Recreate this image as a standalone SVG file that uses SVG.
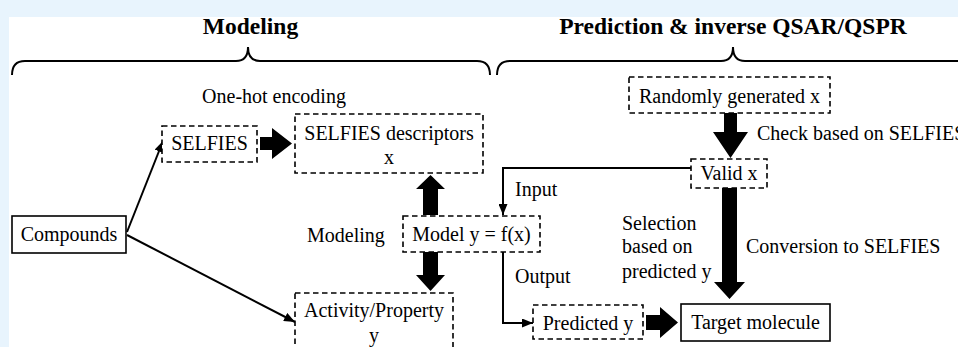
<svg xmlns="http://www.w3.org/2000/svg" width="958" height="347" viewBox="0 0 958 347">
<style>
text{font-family:"Liberation Serif","Times New Roman",serif;font-size:20px;fill:#000}
.title{font-weight:bold;font-size:23.5px;text-anchor:middle}
.c{text-anchor:middle}
.dash{fill:#fff;stroke:#000;stroke-width:1.6;stroke-dasharray:5.5,3.5}
.solid{fill:#fff;stroke:#000;stroke-width:1.6}
.line{fill:none;stroke:#000;stroke-width:2}
.brace{fill:none;stroke:#000;stroke-width:2}
.block{fill:#000}
</style>
<defs>
<marker id="ah" markerUnits="userSpaceOnUse" markerWidth="11" markerHeight="9" refX="11" refY="4.5" orient="auto">
<path d="M0,0 L11,4.5 L0,9 z" fill="#000"/>
</marker>
</defs>
<rect x="0" y="0" width="958" height="347" fill="#e8f4fd"/>
<rect x="9" y="17" width="949" height="330" fill="#fff"/>

<g id="titles">
<text class="title" x="250.5" y="34">Modeling</text>
<text class="title" x="733" y="34">Prediction &amp; inverse QSAR/QSPR</text>
<path class="brace" d="M12,75 Q12,61 25,61 H236 Q248,61 248,47 Q248,61 260,61 H477 Q490,61 490,75"/>
<path class="brace" d="M497,75 Q497,61 510,61 H721 Q733,61 733,47 Q733,61 745,61 H958"/>
</g>

<g id="connectors">
<line class="line" x1="127" y1="232" x2="163" y2="141" marker-end="url(#ah)"/>
<line class="line" x1="127" y1="235" x2="295" y2="322" marker-end="url(#ah)"/>
<path class="line" d="M692,168 H503 V215" marker-end="url(#ah)"/>
<path class="line" d="M503,252 V323 H533" marker-end="url(#ah)"/>
<polygon class="block" points="260,137 272,137 272,128 292,143.5 272,159 272,150 260,150"/>
<polygon class="block" points="423,215 423,189 416,189 430.5,175 445,189 438,189 438,215"/>
<polygon class="block" points="423,252 438,252 438,275 445,275 430.5,291 416,275 423,275"/>
<polygon class="block" points="724,113 737,113 737,132 748,132 730.5,158 713,132 724,132"/>
<polygon class="block" points="722,188 737,188 737,282 745,282 729.5,299 714,282 722,282"/>
<polygon class="block" points="646,315 660,315 660,307 678,322.5 660,338 660,330 646,330"/>
</g>

<g id="labels">
<text class="c" x="274" y="103">One-hot encoding</text>
<text x="307" y="242">Modeling</text>
<text x="515" y="196">Input</text>
<text x="515" y="283">Output</text>
<text x="757" y="140">Check based on SELFIES</text>
<text x="746" y="253">Conversion to SELFIES</text>
<text x="622" y="230">Selection</text>
<text x="622" y="253">based on</text>
<text x="622" y="278">predicted y</text>
</g>

<g id="compounds">
<rect class="solid" x="12" y="216" width="114" height="37"/>
<text class="c" x="69" y="241">Compounds</text>
</g>
<g id="selfies">
<rect class="dash" x="162" y="126" width="95" height="36"/>
<text class="c" x="209.5" y="150">SELFIES</text>
</g>
<g id="descriptors">
<rect class="dash" x="295" y="114" width="188" height="59"/>
<text class="c" x="389" y="140">SELFIES descriptors</text>
<text class="c" x="389" y="164">x</text>
</g>
<g id="model">
<rect class="dash" x="403" y="216" width="137" height="36"/>
<text class="c" x="471.5" y="241">Model y = f(x)</text>
</g>
<g id="activity">
<rect class="dash" x="295" y="293" width="158" height="70"/>
<text class="c" x="374" y="317">Activity/Property</text>
<text class="c" x="374" y="342">y</text>
</g>
<g id="random">
<rect class="dash" x="629" y="77" width="201" height="36"/>
<text class="c" x="729.5" y="103">Randomly generated x</text>
</g>
<g id="valid">
<rect class="dash" x="691" y="159" width="76" height="29"/>
<text class="c" x="729" y="180">Valid x</text>
</g>
<g id="predicted">
<rect class="dash" x="533" y="305" width="110" height="34"/>
<text class="c" x="588" y="330">Predicted y</text>
</g>
<g id="target">
<rect class="solid" x="681" y="304" width="149" height="37"/>
<text class="c" x="755.5" y="329">Target molecule</text>
</g>
</svg>
